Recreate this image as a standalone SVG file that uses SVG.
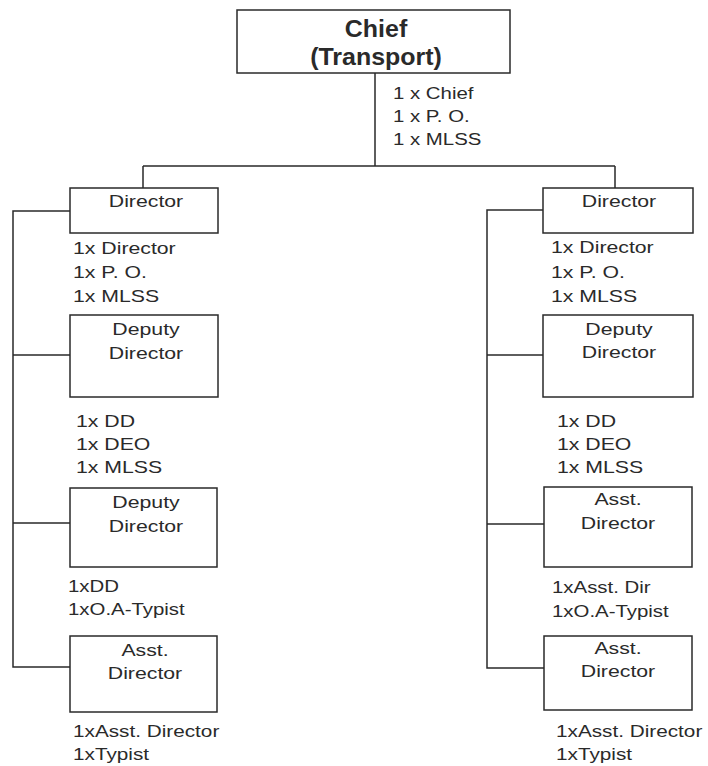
<svg xmlns="http://www.w3.org/2000/svg" width="708" height="766" viewBox="0 0 708 766">
  <style>
    .box { fill: #ffffff; stroke: #2a2a2a; stroke-width: 1.5; }
    .wire { fill: none; stroke: #2a2a2a; stroke-width: 1.5; }
    text { font-family: "Liberation Sans", Arial, sans-serif; fill: #2a2a2a; font-size: 17px; }
    .title { font-weight: bold; font-size: 24px; text-anchor: middle; }
    .mid { text-anchor: middle; }
  </style>
  <rect width="708" height="766" fill="#ffffff"/>

  <!-- connectors -->
  <g id="connectors">
    <path class="wire" d="M375 73 V166 M143 166 H615 M143 166 V188 M615 166 V188"/>
    <!-- left column bus -->
    <path class="wire" d="M70 211 H13 V667 H70 M13 355 H70 M13 523 H70"/>
    <!-- right column bus -->
    <path class="wire" d="M543 210 H487 V668 H544 M487 355 H543 M487 524 H544"/>
  </g>

  <!-- top node -->
  <g id="chief">
    <rect class="box" x="237" y="10" width="273" height="63"/>
    <g transform="translate(376 0) scale(1.04 1)">
      <text class="title" x="0" y="37">Chief</text>
      <text class="title" x="0" y="65">(Transport)</text>
    </g>
    <g transform="translate(393 0) scale(1.2 1)">
      <text x="0" y="99">1 x Chief</text>
      <text x="0" y="122">1 x P. O.</text>
      <text x="0" y="145">1 x MLSS</text>
    </g>
  </g>

  <!-- left column -->
  <g id="left-director">
    <rect class="box" x="70" y="188" width="148" height="45"/>
    <g transform="translate(146 0) scale(1.25 1)"><text class="mid" x="0" y="207">Director</text></g>
    <g transform="translate(73 0) scale(1.25 1)">
      <text x="0" y="254">1x Director</text>
      <text x="0" y="278">1x P. O.</text>
      <text x="0" y="302">1x MLSS</text>
    </g>
  </g>
  <g id="left-deputy-1">
    <rect class="box" x="70" y="315" width="148" height="82"/>
    <g transform="translate(146 0) scale(1.25 1)">
      <text class="mid" x="0" y="335">Deputy</text>
      <text class="mid" x="0" y="359">Director</text>
    </g>
    <g transform="translate(76 0) scale(1.25 1)">
      <text x="0" y="427">1x DD</text>
      <text x="0" y="450">1x DEO</text>
      <text x="0" y="473">1x MLSS</text>
    </g>
  </g>
  <g id="left-deputy-2">
    <rect class="box" x="70" y="488" width="147" height="79"/>
    <g transform="translate(146 0) scale(1.25 1)">
      <text class="mid" x="0" y="508">Deputy</text>
      <text class="mid" x="0" y="532">Director</text>
    </g>
    <g transform="translate(68 0) scale(1.2 1)">
      <text x="0" y="592">1xDD</text>
      <text x="0" y="615">1xO.A-Typist</text>
    </g>
  </g>
  <g id="left-asst">
    <rect class="box" x="70" y="636" width="147" height="76"/>
    <g transform="translate(145 0) scale(1.25 1)">
      <text class="mid" x="0" y="656">Asst.</text>
      <text class="mid" x="0" y="679">Director</text>
    </g>
    <g transform="translate(73 0) scale(1.22 1)">
      <text x="0" y="737">1xAsst. Director</text>
      <text x="0" y="760">1xTypist</text>
    </g>
  </g>

  <!-- right column -->
  <g id="right-director">
    <rect class="box" x="543" y="188" width="150" height="45"/>
    <g transform="translate(619 0) scale(1.25 1)"><text class="mid" x="0" y="207">Director</text></g>
    <g transform="translate(551 0) scale(1.25 1)">
      <text x="0" y="253">1x Director</text>
      <text x="0" y="278">1x P. O.</text>
      <text x="0" y="302">1x MLSS</text>
    </g>
  </g>
  <g id="right-deputy">
    <rect class="box" x="543" y="315" width="150" height="82"/>
    <g transform="translate(619 0) scale(1.25 1)">
      <text class="mid" x="0" y="335">Deputy</text>
      <text class="mid" x="0" y="358">Director</text>
    </g>
    <g transform="translate(557 0) scale(1.25 1)">
      <text x="0" y="427">1x DD</text>
      <text x="0" y="450">1x DEO</text>
      <text x="0" y="473">1x MLSS</text>
    </g>
  </g>
  <g id="right-asst-1">
    <rect class="box" x="544" y="487" width="148" height="80"/>
    <g transform="translate(618 0) scale(1.25 1)">
      <text class="mid" x="0" y="505">Asst.</text>
      <text class="mid" x="0" y="529">Director</text>
    </g>
    <g transform="translate(552 0) scale(1.2 1)">
      <text x="0" y="593">1xAsst. Dir</text>
      <text x="0" y="617">1xO.A-Typist</text>
    </g>
  </g>
  <g id="right-asst-2">
    <rect class="box" x="544" y="636" width="148" height="74"/>
    <g transform="translate(618 0) scale(1.25 1)">
      <text class="mid" x="0" y="654">Asst.</text>
      <text class="mid" x="0" y="677">Director</text>
    </g>
    <g transform="translate(556 0) scale(1.22 1)">
      <text x="0" y="737">1xAsst. Director</text>
      <text x="0" y="760">1xTypist</text>
    </g>
  </g>
</svg>
